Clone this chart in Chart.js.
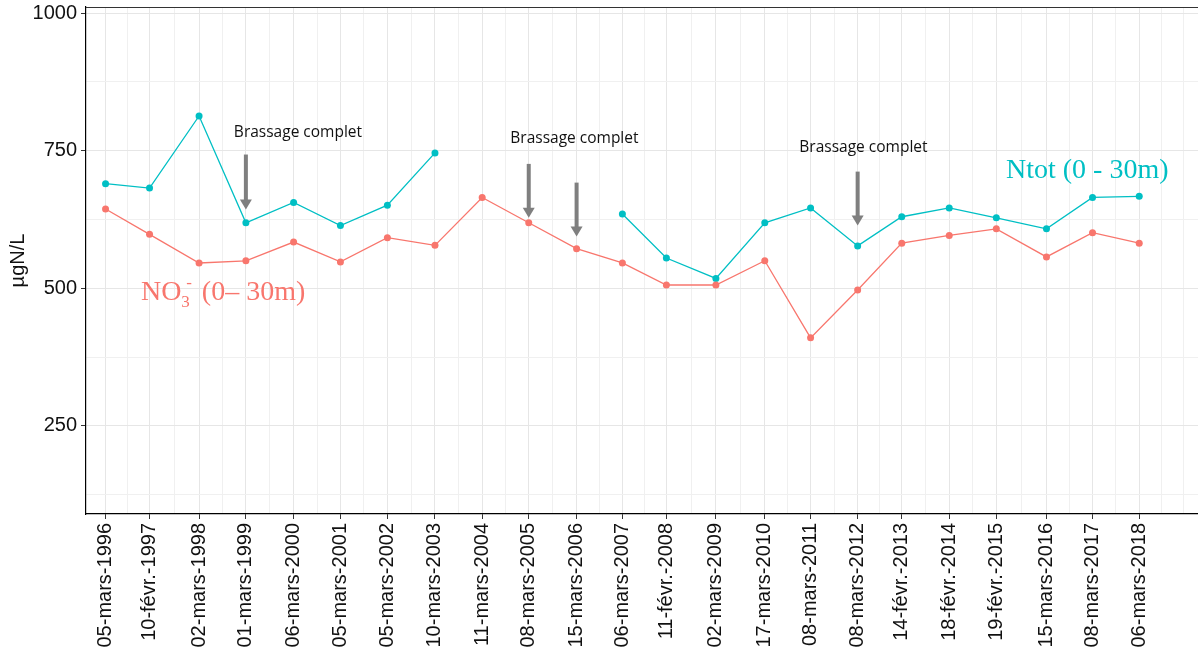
<!DOCTYPE html>
<html>
<head>
<meta charset="utf-8">
<script src="https://cdn.jsdelivr.net/npm/chart.js@4.4.1/dist/chart.umd.min.js"></script>
<style>
  html, body { margin: 0; padding: 0; background: #fff; }
  #wrap { width: 1198px; height: 659px; }
</style>
</head>
<body>
<div id="wrap"><canvas id="c" width="1198" height="659"></canvas></div>
<script>
// sampling dates (ISO) and the axis labels as printed on the original
var dates = ['1996-03-05','1997-02-10','1998-03-02','1999-03-01','2000-03-06','2001-03-05',
  '2002-03-05','2003-03-10','2004-03-11','2005-03-08','2006-03-15','2007-03-06','2008-02-11',
  '2009-03-02','2010-03-17','2011-03-08','2012-03-08','2013-02-14','2014-02-18','2015-02-19',
  '2016-03-15','2017-03-08','2018-03-06'];
var dateLabels = ['05-mars-1996','10-févr.-1997','02-mars-1998','01-mars-1999','06-mars-2000',
  '05-mars-2001','05-mars-2002','10-mars-2003','11-mars-2004','08-mars-2005','15-mars-2006',
  '06-mars-2007','11-févr.-2008','02-mars-2009','17-mars-2010','08-mars-2011','08-mars-2012',
  '14-févr.-2013','18-févr.-2014','19-févr.-2015','15-mars-2016','08-mars-2017','06-mars-2018'];

// µgN/L, 0-30m
var ntot = [690, 682, 813, 619, 656, 614, 651, 746, null, null, null, 635, 555, 518, 619, 646,
  577, 630, 646, 628, 608, 665, 667];
var no3 = [644, 598, 546, 550, 584, 548, 592, 578, 665, 619, 572, 546, 506, 506, 550, 410,
  497, 582, 596, 608, 557, 601, 582];

var yMajor = [250, 500, 750, 1000];
var yMinor = [125, 375, 625, 875];

// "Brassage complet" arrows: date, top value, tip value
var arrows = [
  { date: '1999-03-01', from: 743, to: 643 },
  { date: '2005-03-08', from: 726, to: 628 },
  { date: '2006-03-15', from: 692, to: 594 },
  { date: '2012-03-08', from: 712, to: 614 }
];
var notes = [
  { date: '2000-04-09', value: 783, text: 'Brassage complet' },
  { date: '2006-02-26', value: 772, text: 'Brassage complet' },
  { date: '2012-04-22', value: 756, text: 'Brassage complet' }
];

var tealColor = '#00BFC4';
var redColor = '#F8766D';

function dayOf(s) {
  var p = s.split('-');
  return Date.UTC(+p[0], +p[1] - 1, +p[2]) / 86400000;
}

var xDays = dates.map(dayOf);

// minor breaks like ggplot: midpoints, plus one step past the last break
var xMinor = [];
for (var i = 0; i < xDays.length - 1; i++) {
  xMinor.push((xDays[i] + xDays[i + 1]) / 2);
}
var step = xDays[1] - xDays[0];
var lastDay = xDays[xDays.length - 1];
xMinor.push(lastDay + step / 2, lastDay + step);

function toPoints(vals) {
  var pts = [];
  for (var i = 0; i < vals.length; i++) {
    pts.push({ x: xDays[i], y: vals[i] });
  }
  return pts;
}

function isMajorX(v) { return xDays.indexOf(v) >= 0; }
function isMajorY(v) { return yMajor.indexOf(v) >= 0; }

var extras = {
  id: 'extras',
  afterDatasetsDraw: function(chart) {
    var ctx = chart.ctx;
    var xs = chart.scales.x, ys = chart.scales.y;
    var area = chart.chartArea;
    ctx.save();

    // top frame line
    ctx.strokeStyle = '#333';
    ctx.lineWidth = 1;
    ctx.beginPath();
    ctx.moveTo(area.left, area.top + 0.5);
    ctx.lineTo(area.right, area.top + 0.5);
    ctx.stroke();

    // arrows
    ctx.fillStyle = '#7f7f7f';
    ctx.strokeStyle = '#7f7f7f';
    arrows.forEach(function(a) {
      var x = xs.getPixelForValue(dayOf(a.date));
      var y1 = ys.getPixelForValue(a.from);
      var y2 = ys.getPixelForValue(a.to);
      ctx.lineWidth = 4;
      ctx.beginPath();
      ctx.moveTo(x, y1);
      ctx.lineTo(x, y2 - 9);
      ctx.stroke();
      ctx.beginPath();
      ctx.moveTo(x - 6, y2 - 10);
      ctx.lineTo(x + 6, y2 - 10);
      ctx.lineTo(x, y2);
      ctx.closePath();
      ctx.fill();
    });

    // notes
    ctx.fillStyle = '#111';
    ctx.font = '15.5px "Open Sans", Lato, sans-serif';
    ctx.textAlign = 'center';
    ctx.textBaseline = 'middle';
    notes.forEach(function(n) {
      ctx.fillText(n.text, xs.getPixelForValue(dayOf(n.date)), ys.getPixelForValue(n.value));
    });

    // series labels
    ctx.textAlign = 'left';
    ctx.textBaseline = 'alphabetic';
    var big = '28px "Liberation Serif", "DejaVu Serif", serif';
    var small = '17px "Liberation Serif", "DejaVu Serif", serif';

    ctx.fillStyle = tealColor;
    ctx.font = big;
    ctx.fillText('Ntot (0 - 30m)', xs.getPixelForValue(dayOf('2015-05-05')), ys.getPixelForValue(701));

    ctx.fillStyle = redColor;
    var lx = xs.getPixelForValue(dayOf('1996-12-05'));
    var ly = ys.getPixelForValue(479);
    ctx.font = big;
    ctx.fillText('NO', lx, ly);
    lx += ctx.measureText('NO').width;
    ctx.font = small;
    ctx.fillText('3', lx, ly + 7);
    ctx.fillText('-', lx + 5, ly - 12);
    lx += ctx.measureText('3').width + 5;
    ctx.font = big;
    ctx.fillText(' (0\u2013 30m)', lx, ly);

    ctx.restore();
  }
};

var tickFont = { family: '"Liberation Sans", Arial, sans-serif', size: 20 };

new Chart(document.getElementById('c'), {
  type: 'line',
  data: {
    datasets: [
      {
        label: 'NO3',
        data: toPoints(no3),
        borderColor: redColor,
        backgroundColor: redColor,
        borderWidth: 1.3,
        pointRadius: 3.5,
        pointBorderWidth: 0,
        tension: 0,
        spanGaps: false
      },
      {
        label: 'Ntot',
        data: toPoints(ntot),
        borderColor: tealColor,
        backgroundColor: tealColor,
        borderWidth: 1.3,
        pointRadius: 3.5,
        pointBorderWidth: 0,
        tension: 0,
        spanGaps: false
      }
    ]
  },
  options: {
    responsive: false,
    animation: false,
    layout: { autoPadding: false, padding: { top: 7, right: 0, left: 0, bottom: 0 } },
    plugins: {
      legend: { display: false },
      tooltip: { enabled: false }
    },
    scales: {
      x: {
        type: 'linear',
        min: xDays[0] - 152,
        max: lastDay + 457,
        bounds: 'data',
        afterBuildTicks: function(scale) {
          var all = xDays.concat(xMinor).sort(function(a, b) { return a - b; });
          scale.ticks = all.map(function(v) { return { value: v }; });
        },
        afterFit: function(scale) {
          scale.height = 145;
          scale.paddingLeft = 0;
          scale.paddingRight = 0;
        },
        ticks: {
          autoSkip: false,
          minRotation: 90,
          maxRotation: 90,
          padding: 4,
          color: '#111',
          font: tickFont,
          callback: function(value) {
            var k = xDays.indexOf(value);
            return k >= 0 ? dateLabels[k] : '';
          }
        },
        grid: {
          color: function(c) { return c.tick && isMajorX(c.tick.value) ? '#e6e6e6' : '#f0f0f0'; },
          tickColor: function(c) { return c.tick && isMajorX(c.tick.value) ? '#333' : 'rgba(0,0,0,0)'; },
          tickLength: 5,
          lineWidth: 1
        },
        border: { color: '#000', width: 1.2 }
      },
      y: {
        min: 90,
        max: 1011,
        bounds: 'data',
        afterBuildTicks: function(scale) {
          var all = yMinor.concat(yMajor).sort(function(a, b) { return a - b; });
          scale.ticks = all.map(function(v) { return { value: v }; });
        },
        afterFit: function(scale) {
          scale.width = 86;
          scale.paddingTop = 0;
          scale.paddingBottom = 0;
        },
        ticks: {
          autoSkip: false,
          padding: 4,
          color: '#111',
          font: tickFont,
          callback: function(value) { return isMajorY(value) ? String(value) : ''; }
        },
        grid: {
          color: function(c) { return c.tick && isMajorY(c.tick.value) ? '#e6e6e6' : '#f0f0f0'; },
          tickColor: function(c) { return c.tick && isMajorY(c.tick.value) ? '#333' : 'rgba(0,0,0,0)'; },
          tickLength: 5,
          lineWidth: 1
        },
        border: { color: '#000', width: 1.2 },
        title: {
          display: true,
          text: 'µgN/L',
          color: '#111',
          font: { family: '"Liberation Sans", Arial, sans-serif', size: 20 },
          padding: { top: 6, bottom: 0 }
        }
      }
    }
  },
  plugins: [extras]
});
</script>
</body>
</html>
